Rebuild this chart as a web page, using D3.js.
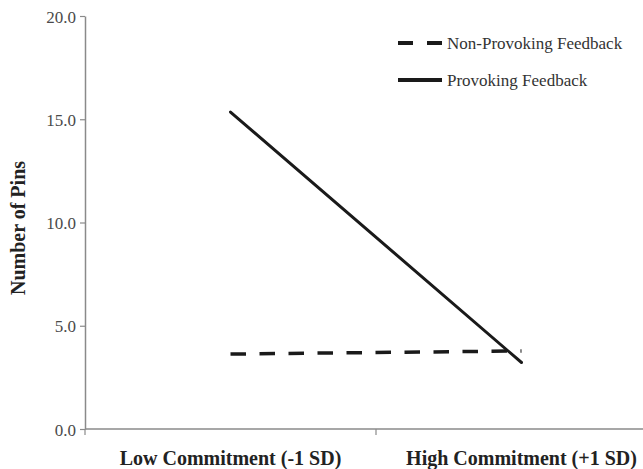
<!DOCTYPE html>
<html>
<head>
<meta charset="utf-8">
<script src="https://cdn.jsdelivr.net/npm/d3@7"></script>
<style>
  html, body { margin: 0; padding: 0; background: #fff; }
  svg { display: block; }
</style>
</head>
<body>
<svg id="chart" width="643" height="469"></svg>
<script>
// ---- data ----
const categories = ["Low Commitment (-1 SD)", "High Commitment (+1 SD)"];
const seriesNames = ["Non-Provoking Feedback", "Provoking Feedback"];
const nonProvoking = [3.63, 3.78];
const provoking = [15.35, 3.22];
const yTicks = [0, 5, 10, 15, 20];
const yTitle = "Number of Pins";

// ---- layout ----
const svg = d3.select("#chart");
const serif = "Liberation Serif";

const x = d3.scaleBand().domain(categories).range([85, 667]).paddingInner(0).paddingOuter(0);
const y = d3.scaleLinear().domain([0, 20]).range([429, 16]);

const axisColor = "#8a8a8a";

// y axis
const yAxis = d3.axisLeft(y).tickValues(yTicks).tickFormat(d3.format(".1f")).tickSize(5).tickSizeOuter(0).tickPadding(4);
const gy = svg.append("g").attr("transform", "translate(85,0)").call(yAxis);
gy.attr("font-family", serif).attr("font-size", 17);
gy.select(".domain").attr("stroke", axisColor).attr("stroke-width", 1.5);
gy.selectAll(".tick line").attr("stroke", axisColor).attr("stroke-width", 1.2);
gy.selectAll(".tick text").attr("fill", "#4a4a4a").attr("dy", "0.36em");

// x axis line and boundary ticks
const gx = svg.append("g").attr("transform", "translate(0,429)");
gx.append("line").attr("x1", x.range()[0]).attr("x2", x.range()[1]).attr("y1", 0).attr("y2", 0)
  .attr("stroke", axisColor).attr("stroke-width", 1.5);
const bounds = categories.map(c => x(c)).concat([x(categories[categories.length - 1]) + x.bandwidth()]);
gx.selectAll("line.bt").data(bounds).enter().append("line").attr("class", "bt")
  .attr("x1", d => d).attr("x2", d => d).attr("y1", 0).attr("y2", 6)
  .attr("stroke", axisColor).attr("stroke-width", 1.2);
gx.selectAll("text").data(categories).enter().append("text")
  .attr("x", d => x(d) + x.bandwidth() / 2)
  .attr("y", 36)
  .attr("text-anchor", "middle")
  .attr("font-family", serif).attr("font-size", 20).attr("font-weight", "bold").attr("fill", "#222")
  .text(d => d);

// y title
svg.append("text")
  .attr("transform", "translate(25,228) rotate(-90)")
  .attr("text-anchor", "middle")
  .attr("font-family", serif).attr("font-size", 20).attr("font-weight", "bold").attr("fill", "#222")
  .text(yTitle);

// lines
const line = d3.line().x((d, i) => x(categories[i]) + x.bandwidth() / 2).y(d => y(d));

svg.append("path").datum(nonProvoking).attr("d", line)
  .attr("fill", "none").attr("stroke", "#1a1a1a").attr("stroke-width", 3.5)
  .attr("stroke-dasharray", "15.5,13.5");

svg.append("path").datum(provoking).attr("d", line)
  .attr("fill", "none").attr("stroke", "#1a1a1a").attr("stroke-width", 3).attr("stroke-linecap", "round");

// legend
const legend = svg.append("g");
const legendRows = [
  { name: seriesNames[0], dash: "15,14", y: 43, w: 3.8 },
  { name: seriesNames[1], dash: null, y: 80, w: 3.8 }
];
legendRows.forEach(r => {
  const l = legend.append("line").attr("x1", 398).attr("x2", 442).attr("y1", r.y).attr("y2", r.y)
    .attr("stroke", "#1a1a1a").attr("stroke-width", r.w);
  if (r.dash) l.attr("stroke-dasharray", r.dash);
  legend.append("text").attr("x", 447).attr("y", r.y + 6)
    .attr("font-family", serif).attr("font-size", 17).attr("fill", "#333")
    .text(r.name);
});
</script>
</body>
</html>
